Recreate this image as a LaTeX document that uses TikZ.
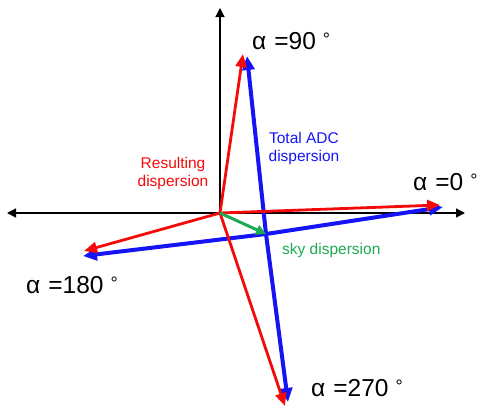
\documentclass[tikz,border=0pt]{standalone}
\usepackage{fontspec}
\setmainfont{Liberation Sans}
\usetikzlibrary{arrows.meta}
\definecolor{adcblue}{RGB}{20,20,245}
\definecolor{resred}{RGB}{245,10,10}
\definecolor{skygreen}{RGB}{30,170,80}
\newcommand{\mydeg}{\hspace{7pt}\raisebox{4pt}{\fontsize{18}{18}\selectfont °}}
\newcommand{\myalpha}{α\hspace{8pt}}
\tikzset{
  axis/.style={black, line width=1.3pt, -{Triangle[length=9pt,width=9pt]}},
  bluevec/.style={adcblue, line width=4pt, -{Triangle[length=14pt,width=12pt]}},
  redvec/.style={resred, line width=2.8pt, -{Triangle[length=13pt,width=11pt]}},
  greenvec/.style={skygreen, line width=3pt, -{Triangle[length=10pt,width=10pt]}},
  anglab/.style={font=\fontsize{24.5}{26}\selectfont, inner sep=0pt},
  smalllab/.style={font=\fontsize{15.5}{18}\selectfont, align=center, inner sep=0pt}
}
\begin{document}
\begin{tikzpicture}[x=1pt,y=-1pt]
\useasboundingbox (0,0) rectangle (480,415);
% anchor coordinates
\coordinate (O) at (220,213);
\coordinate (C) at (266,234);
\coordinate (axL) at (7,213);
\coordinate (axR) at (465,213);
\coordinate (axT) at (220,8);
% axes
\draw[axis] (O) -- (axR);
\draw[axis] (O) -- (axL);
\draw[axis] (O) -- (axT);
% blue ADC dispersion vectors
\coordinate (bT) at (247,56);
\coordinate (bR) at (443,207);
\coordinate (bL) at (83,256);
\coordinate (bB) at (288,402);
\draw[bluevec] (C) -- (bT);
\draw[bluevec] (C) -- (bR);
\draw[bluevec] (C) -- (bL);
\draw[bluevec] (C) -- (bB);
% red resulting dispersion vectors
\coordinate (rT) at (243,54);
\coordinate (rR) at (440,205);
\coordinate (rL) at (84,251);
\coordinate (rB) at (285,406);
\draw[redvec] (O) -- (rT);
\draw[redvec] (O) -- (rR);
\draw[redvec] (O) -- (rL);
\draw[redvec] (O) -- (rB);
% green sky dispersion
\draw[greenvec] (O) -- (C);
% labels
\node[anglab, anchor=west] (l90) at (252,41) {\myalpha=90\mydeg};
\node[anglab, anchor=west] (l0) at (413,182) {\myalpha=0\mydeg};
\node[anglab, anchor=west] (l180) at (26,285) {\myalpha=180\mydeg};
\node[anglab, anchor=west] (l270) at (311,388) {\myalpha=270\mydeg};
\node[smalllab, text=adcblue] (ladc) at (304,148) {Total ADC\\dispersion};
\node[smalllab, text=resred] (lres) at (173,173) {Resulting\\dispersion};
\node[smalllab, text=skygreen, anchor=west] (lsky) at (282,250) {sky dispersion};
\end{tikzpicture}
\end{document}
